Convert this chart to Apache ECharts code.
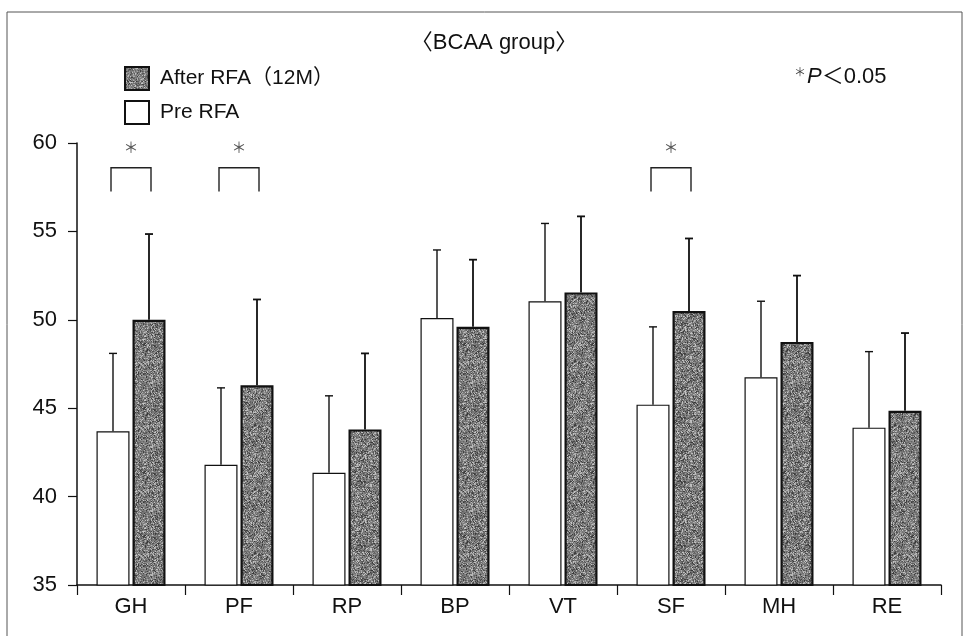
<!DOCTYPE html>
<html>
<head>
<meta charset="utf-8">
<script src="https://cdn.jsdelivr.net/npm/echarts@6/dist/echarts.min.js"></script>
<style>
  html, body { margin: 0; padding: 0; background: #fff; }
  #chart { width: 968px; height: 636px; }
</style>
</head>
<body>
<div id="chart"></div>
<script>
// SF-36 subscales
const categories = ['GH', 'PF', 'RP', 'BP', 'VT', 'SF', 'MH', 'RE'];
const preMean = [43.7, 41.8, 41.35, 50.1, 51.05, 45.2, 46.75, 43.9];
const preSD = [4.4, 4.35, 4.35, 3.85, 4.4, 4.4, 4.3, 4.3];
const afterMean = [50.0, 46.3, 43.8, 49.6, 51.55, 50.5, 48.75, 44.85];
const afterSD = [4.85, 4.85, 4.3, 3.8, 4.3, 4.1, 3.75, 4.4];
const sigCats = ['GH', 'PF', 'SF'];
const yTicks = [35, 40, 45, 50, 55, 60];

const FONT = '"Liberation Sans", Arial, "Noto Sans CJK JP", sans-serif';
const BAR_W = 33;
const BAR_GAP = 3;
const OFF = (BAR_W + BAR_GAP) / 2;

// speckled grey fill like the printed bars (fixed seed, style only)
function makeTexture() {
  const size = 64;
  const c = document.createElement('canvas');
  c.width = c.height = size;
  const ctx = c.getContext('2d');
  const img = ctx.createImageData(size, size);
  let s = 20240611;
  for (let i = 0; i < size * size; i++) {
    s = (s * 1103515245 + 12345) & 0x7fffffff;
    const r = (s >> 8) % 100;
    let v;
    if (r < 35) v = 55 + (r * 2);
    else if (r < 82) v = 105 + (r - 35);
    else v = 165 + (r - 82) * 2;
    img.data[i * 4] = v;
    img.data[i * 4 + 1] = v;
    img.data[i * 4 + 2] = v;
    img.data[i * 4 + 3] = 255;
  }
  ctx.putImageData(img, 0, 0);
  return c;
}
const texture = makeTexture();

function errorSeries(name, means, sds, off, lw) {
  return {
    name: name,
    type: 'custom',
    silent: true,
    z: 3,
    data: means.map((m, i) => [i, m, m + sds[i]]),
    encode: { x: 0, y: [1, 2] },
    renderItem: function (params, api) {
      const base = api.coord([api.value(0), api.value(1)]);
      const top = api.coord([api.value(0), api.value(2)]);
      const x = base[0] + off;
      const st = { stroke: '#111', lineWidth: lw };
      return {
        type: 'group',
        children: [
          { type: 'line', shape: { x1: x, y1: base[1], x2: x, y2: top[1] }, style: st },
          { type: 'line', shape: { x1: x - 4, y1: top[1], x2: x + 4, y2: top[1] }, style: st }
        ]
      };
    }
  };
}

const chart = echarts.init(document.getElementById('chart'));

const option = {
  animation: false,
  backgroundColor: '#fff',
  grid: { left: 77, right: 27, top: 143, bottom: 51 },
  legend: {
    data: ['After RFA（12M）', 'Pre RFA'],
    orient: 'vertical',
    left: 119,
    top: 61,
    itemWidth: 24,
    itemHeight: 23,
    itemGap: 9,
    icon: 'rect',
    selectedMode: false,
    textStyle: { fontSize: 21, color: '#111', fontFamily: FONT, padding: [0, 0, 0, 6] }
  },
  xAxis: {
    type: 'category',
    data: categories,
    axisLine: { lineStyle: { color: '#111', width: 1.5 } },
    axisTick: { show: true, length: 10, lineStyle: { color: '#111', width: 1.2 } },
    axisLabel: { fontSize: 22, color: '#111', margin: 11, fontFamily: FONT }
  },
  yAxis: {
    type: 'value',
    min: yTicks[0],
    max: yTicks[yTicks.length - 1],
    interval: yTicks[1] - yTicks[0],
    axisLine: { show: true, lineStyle: { color: '#111', width: 1.5 } },
    axisTick: { show: true, length: 9, lineStyle: { color: '#111', width: 1.2 } },
    axisLabel: { fontSize: 22, color: '#111', margin: 20, fontFamily: FONT },
    splitLine: { show: false }
  },
  series: [
    {
      name: 'Pre RFA',
      type: 'bar',
      data: preMean,
      barWidth: BAR_W,
      barGap: (BAR_GAP / BAR_W * 100) + '%',
      itemStyle: { color: '#fff', borderColor: '#111', borderWidth: 1.2 },
      silent: true
    },
    {
      name: 'After RFA（12M）',
      type: 'bar',
      data: afterMean,
      barWidth: BAR_W,
      itemStyle: {
        color: { image: texture, repeat: 'repeat' },
        borderColor: '#111',
        borderWidth: 2.2
      },
      silent: true
    },
    errorSeries('errPre', preMean, preSD, -OFF, 1.4),
    errorSeries('errAfter', afterMean, afterSD, OFF, 1.8),
    {
      name: 'sig',
      type: 'custom',
      silent: true,
      z: 4,
      data: sigCats.map(c => [categories.indexOf(c), 58.6]),
      encode: { x: 0, y: 1 },
      renderItem: function (params, api) {
        const top = api.coord([api.value(0), api.value(1)]);
        const leg = api.coord([api.value(0), 57.25]);
        const star = api.coord([api.value(0), 59.75]);
        const x1 = top[0] - OFF - 2;
        const x2 = top[0] + OFF + 2;
        return {
          type: 'group',
          children: [
            {
              type: 'polyline',
              shape: { points: [[x1, leg[1]], [x1, top[1]], [x2, top[1]], [x2, leg[1]]] },
              style: { stroke: '#222', lineWidth: 1.4, fill: null }
            },
            {
              type: 'text',
              x: (x1 + x2) / 2,
              y: star[1],
              style: {
                text: '＊',
                fontSize: 15,
                fill: '#555',
                fontFamily: '"Noto Sans CJK JP", sans-serif',
                align: 'center',
                verticalAlign: 'middle'
              }
            }
          ]
        };
      }
    }
  ],
  graphic: [
    {
      type: 'rect',
      shape: { x: 7, y: 12, width: 955, height: 640 },
      style: { fill: null, stroke: '#555', lineWidth: 1 },
      silent: true
    },
    {
      type: 'text',
      x: 494,
      y: 43,
      style: {
        text: '〈BCAA group〉',
        fontSize: 22,
        fill: '#111',
        fontFamily: FONT,
        align: 'center',
        verticalAlign: 'middle'
      }
    },
    {
      type: 'text',
      x: 794,
      y: 77,
      style: {
        text: '{s|＊}{p|P}{t|＜0.05}',
        fill: '#111',
        verticalAlign: 'middle',
        rich: {
          s: { fontSize: 12, fill: '#444', fontFamily: '"Noto Sans CJK JP", sans-serif', verticalAlign: 'top', padding: [0, 1, 6, 0] },
          p: { fontSize: 22, fontStyle: 'italic', fill: '#111', fontFamily: FONT },
          t: { fontSize: 22, fill: '#111', fontFamily: FONT }
        }
      }
    }
  ]
};

chart.setOption(option);
</script>
</body>
</html>
